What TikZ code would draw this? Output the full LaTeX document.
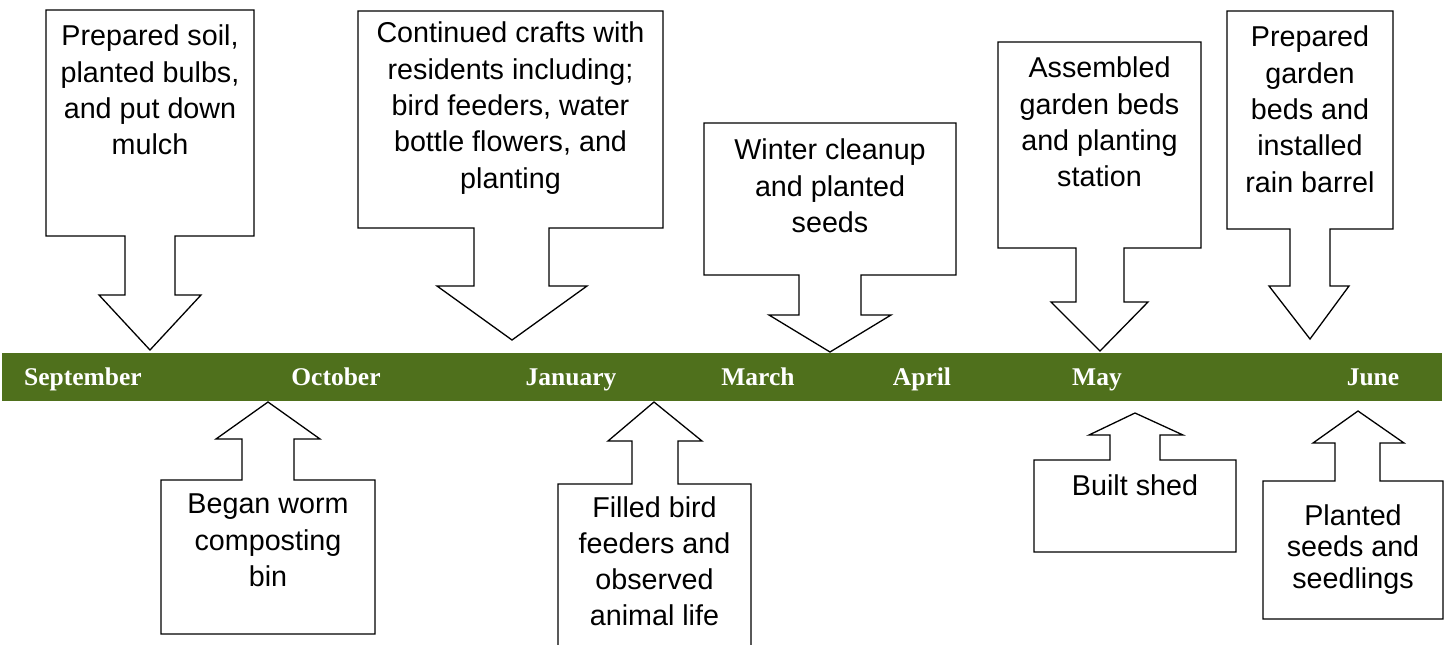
\documentclass[tikz,border=0pt]{standalone}
\usepackage{fontspec}
\setmainfont{Liberation Sans}
\newfontfamily\monthfont{Liberation Serif}
\definecolor{barGreen}{RGB}{79,112,28}
\begin{document}
\begin{tikzpicture}[x=1pt,y=-1pt,
  callout/.style={draw=black,fill=white,line width=1.3pt,line join=miter},
  ctext/.style={anchor=north,inner sep=0pt,align=center,font=\fontsize{28.7}{36.3}\selectfont},
  month/.style={anchor=base,inner sep=0pt,text=white,font=\monthfont\bfseries\fontsize{25.5}{30}\selectfont}]
\useasboundingbox (0,0) rectangle (1456,645);
\clip (0,0) rectangle (1456,645);
% timeline bar
\fill[barGreen] (2,353) rectangle (1442,401);
\node[month] (sep) at (83,385) {September};
\node[month] (oct) at (336,385) {October};
\node[month] (jan) at (571,385) {January};
\node[month] (mar) at (758,385) {March};
\node[month] (apr) at (922,385) {April};
\node[month] (may) at (1097,385) {May};
\node[month] (jun) at (1373,385) {June};
% downward callouts
\draw[callout] (46,10) -- (254,10) -- (254,236) -- (175,236) -- (175,295) -- (201,295) -- (150,350) -- (99,295) -- (125,295) -- (125,236) -- (46,236) -- cycle;
\draw[callout] (358,11) -- (663,11) -- (663,228) -- (549,228) -- (549,286) -- (587,286) -- (512,340) -- (437,286) -- (474,286) -- (474,228) -- (358,228) -- cycle;
\draw[callout] (704,123) -- (956,123) -- (956,275) -- (861,275) -- (861,315) -- (891,315) -- (830,352) -- (769,315) -- (799,315) -- (799,275) -- (704,275) -- cycle;
\draw[callout] (998,42) -- (1201,42) -- (1201,248) -- (1124,248) -- (1124,302) -- (1148,302) -- (1100,351) -- (1051,302) -- (1076,302) -- (1076,248) -- (998,248) -- cycle;
\draw[callout] (1227,11) -- (1393,11) -- (1393,229) -- (1330,229) -- (1330,286) -- (1349,286) -- (1310,339) -- (1269,286) -- (1290,286) -- (1290,229) -- (1227,229) -- cycle;
% upward callouts
\draw[callout] (161,480) -- (242,480) -- (242,439) -- (216,439) -- (268,402) -- (320,439) -- (294,439) -- (294,480) -- (375,480) -- (375,634) -- (161,634) -- cycle;
\draw[callout] (558,484) -- (632,484) -- (632,441) -- (608,441) -- (654,402) -- (702,441) -- (678,441) -- (678,484) -- (751,484) -- (751,660) -- (558,660) -- cycle;
\draw[callout] (1034,460) -- (1110,460) -- (1110,435) -- (1089,435) -- (1135,413) -- (1183,435) -- (1160,435) -- (1160,460) -- (1236,460) -- (1236,552) -- (1034,552) -- cycle;
\draw[callout] (1263,481) -- (1335,481) -- (1335,443) -- (1313,443) -- (1358,411) -- (1404,443) -- (1380,443) -- (1380,481) -- (1443,481) -- (1443,619) -- (1263,619) -- cycle;
% texts
\node[ctext] (t1) at (150,25) {Prepared soil,\\planted bulbs,\\and put down\\mulch};
\node[ctext] (t2) at (268,494) {Began worm\\composting\\bin};
\node[ctext] (t3) at (510.5,22) {Continued crafts with\\residents including;\\bird feeders, water\\bottle flowers, and\\planting};
\node[ctext] (t4) at (654.5,496) {Filled bird\\feeders and\\observed\\animal life};
\node[ctext] (t5) at (830,139) {Winter cleanup\\and planted\\seeds};
\node[ctext] (t6) at (1099.5,57) {Assembled\\garden beds\\and planting\\station};
\node[ctext] (t7) at (1310,26) {Prepared\\garden\\beds and\\installed\\rain barrel};
\node[ctext] (t8) at (1135,474) {Built shed};
\node[ctext,font=\fontsize{28.7}{31.5}\selectfont] (t9) at (1353,504) {Planted\\seeds and\\seedlings};
\end{tikzpicture}
\end{document}
